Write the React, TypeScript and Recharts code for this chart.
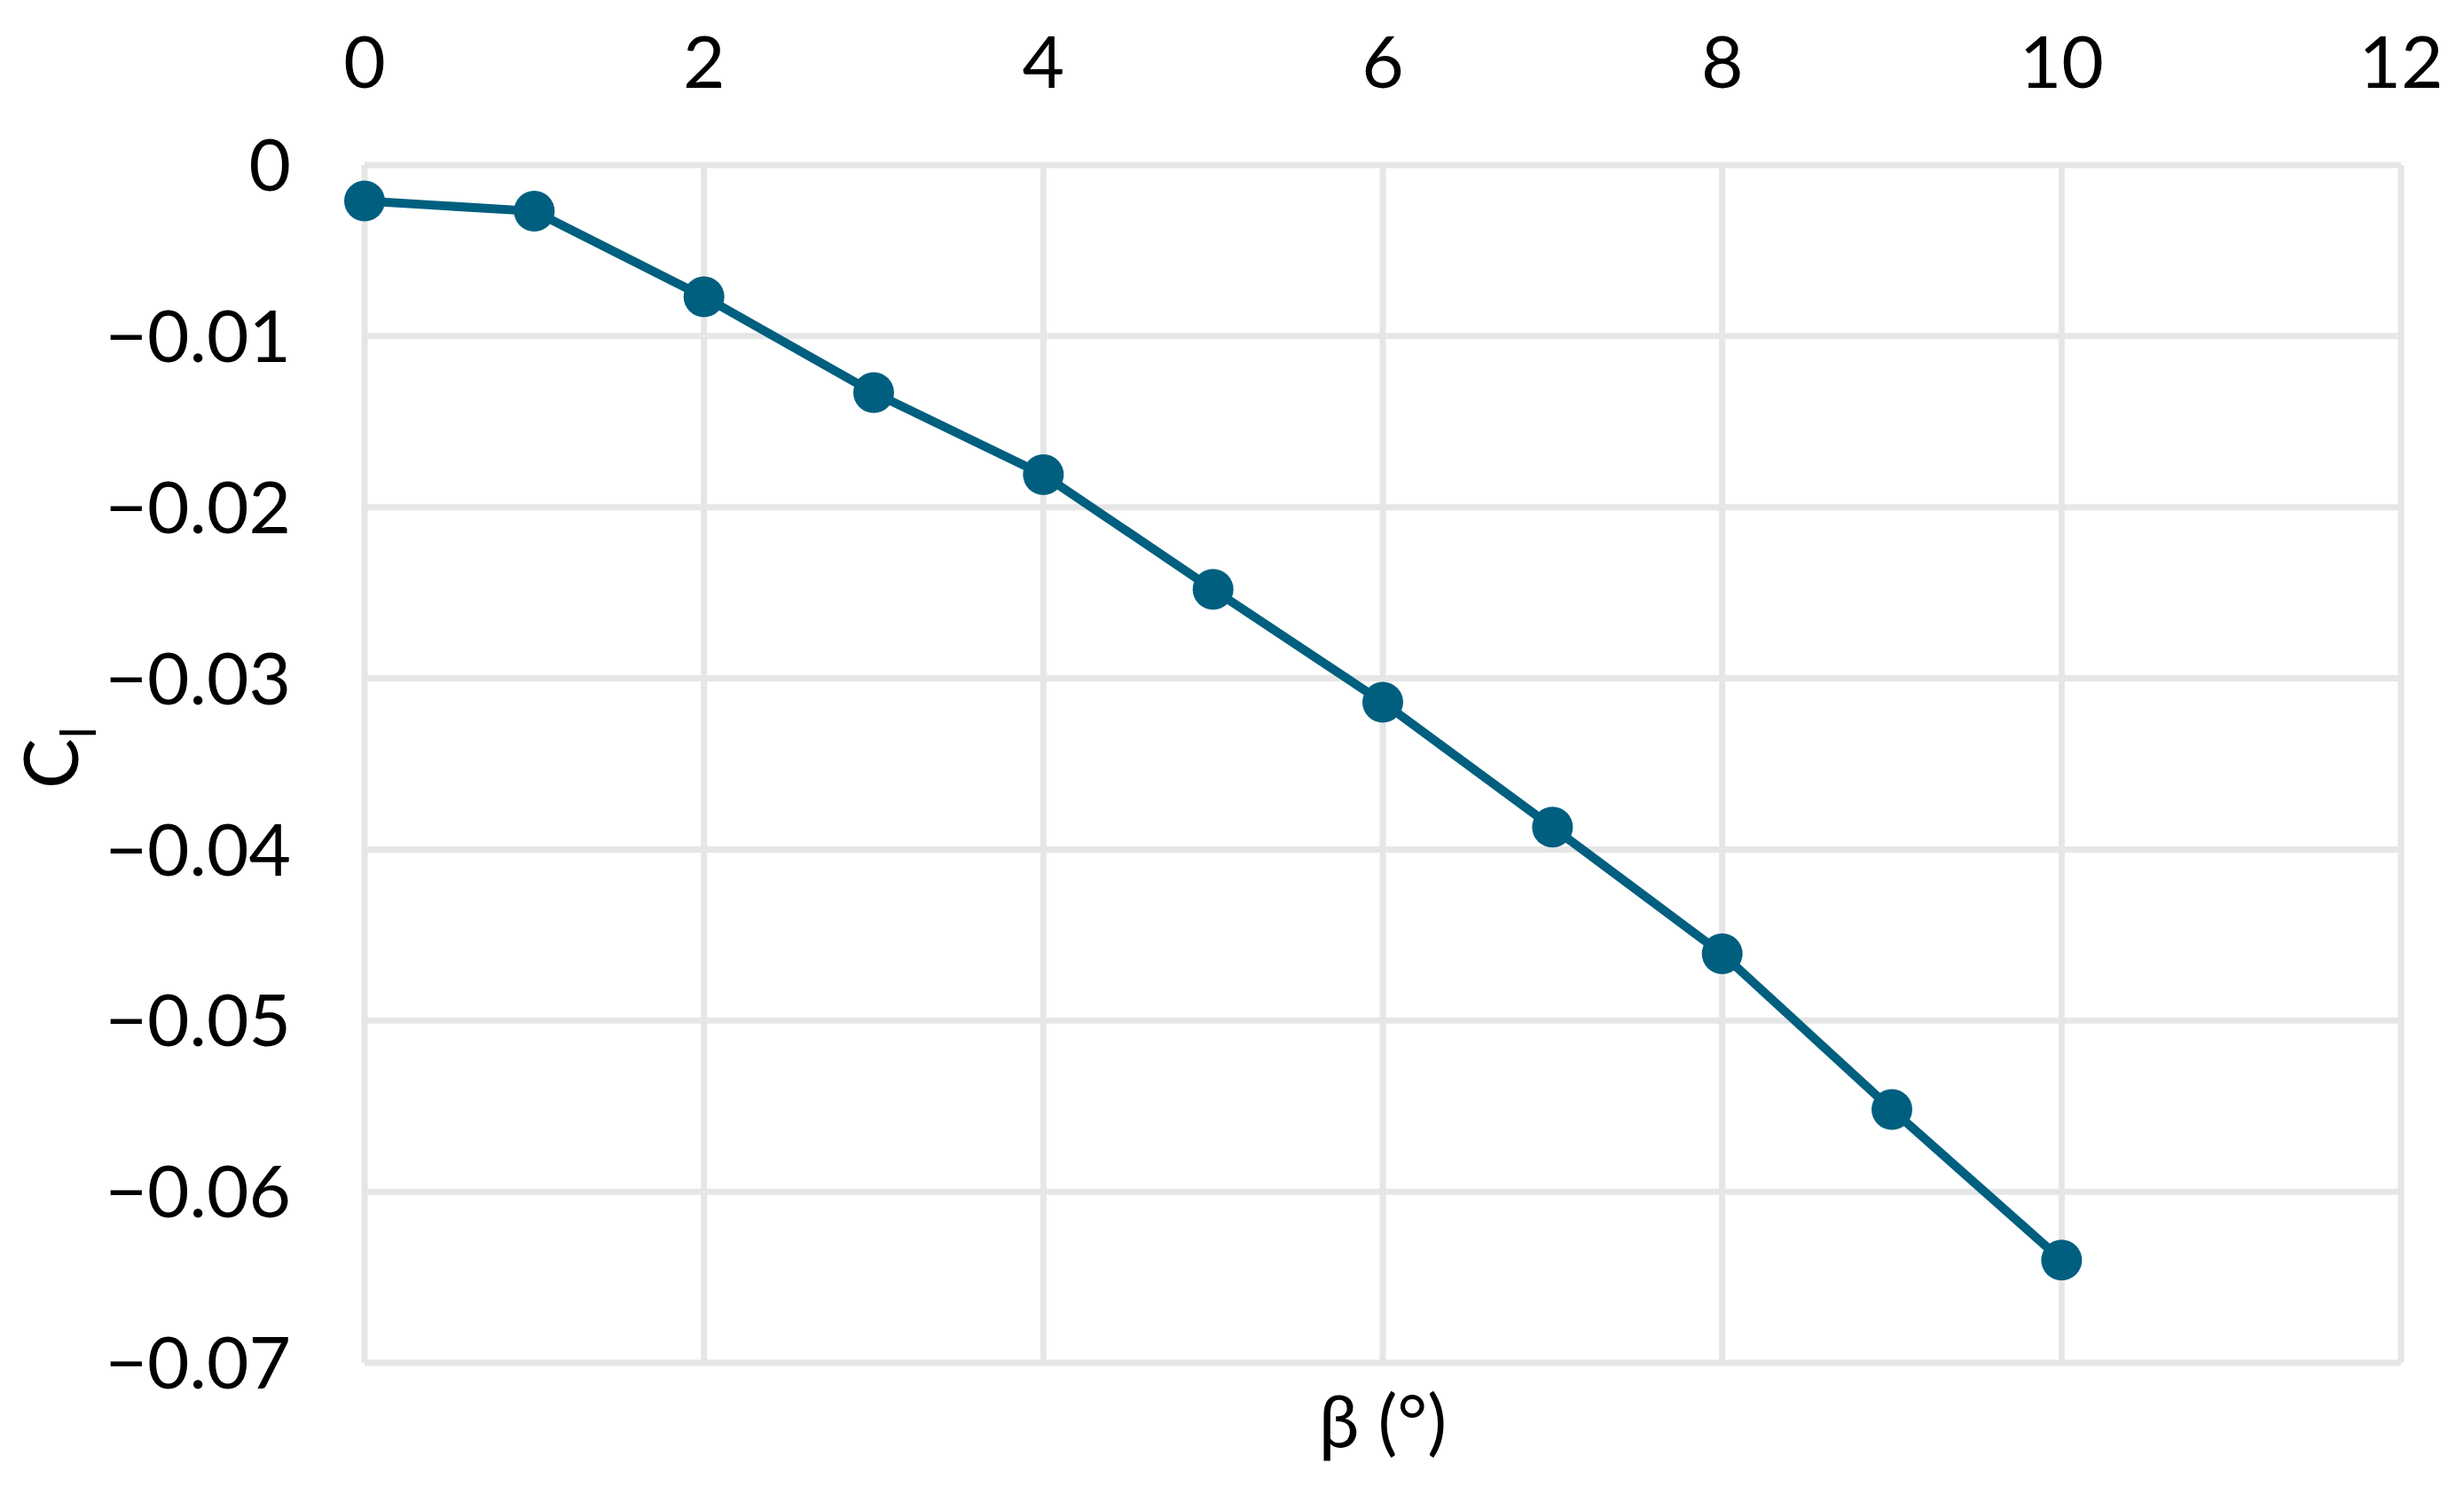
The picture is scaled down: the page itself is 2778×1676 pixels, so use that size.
import { LineChart, Line, XAxis, YAxis, CartesianGrid } from 'recharts';

// sideslip angle β (°) vs rolling moment coefficient Cl
const betaDeg = [0, 1, 2, 3, 4, 5, 6, 7, 8, 9, 10];
const rollCoeff = [-0.0021, -0.0027, -0.0077, -0.0133, -0.0181, -0.0248, -0.0314, -0.0387, -0.0461, -0.0552, -0.064];
const xTicks = [0, 2, 4, 6, 8, 10, 12];
const yTicks = [-0.07, -0.06, -0.05, -0.04, -0.03, -0.02, -0.01, 0];

const data = betaDeg.map((b, i) => ({ beta: b, cl: rollCoeff[i] }));

const font = 'Lato, "Open Sans", sans-serif';
const lineColor = '#005f7f';
const tickStyle = { fill: '#000', fontSize: 82, fontFamily: font };

const fmtY = (v: number) => (v === 0 ? '0' : '\u2212' + Math.abs(v).toFixed(2));

function ClLabel(props: any) {
  const vb = props.viewBox || {};
  const x = (vb.x ?? 410) + (vb.width ?? 1) - 323;
  const y = (vb.y ?? 186) + (vb.height ?? 1350) / 2 + 28;
  return (
    <text
      x={x}
      y={y}
      transform={`rotate(-90 ${x} ${y})`}
      fontFamily={font}
      fontSize={85}
      fill="#000"
    >
      C<tspan fontSize={56} dy={20}>l</tspan>
    </text>
  );
}

export default function App() {
  return (
    <div style={{ position: 'absolute', left: 0, top: 0, background: '#fff' }}>
      <LineChart
        width={2778}
        height={1676}
        data={data}
        margin={{ top: 185, right: 71, bottom: 139, left: 410 }}
      >
        <CartesianGrid stroke="#e6e6e6" strokeWidth={7} />
        <XAxis
          dataKey="beta"
          type="number"
          orientation="top"
          domain={[0, 12]}
          ticks={xTicks}
          height={1}
          axisLine={false}
          tickLine={false}
          tickSize={0}
          tickMargin={87}
          tick={tickStyle}
          interval={0}
        />
        <XAxis
          xAxisId="bottom"
          dataKey="beta"
          type="number"
          orientation="bottom"
          domain={[0, 12]}
          height={1}
          axisLine={false}
          tickLine={false}
          tick={false}
          label={{ value: 'β (°)', position: 'bottom', offset: 36, fill: '#000', fontSize: 82, fontFamily: font }}
        />
        <YAxis
          type="number"
          domain={[-0.07, 0]}
          ticks={yTicks}
          width={1}
          axisLine={false}
          tickLine={false}
          tickSize={0}
          tickMargin={83}
          tick={tickStyle}
          tickFormatter={fmtY}
          interval={0}
          label={<ClLabel />}
        />
        <Line
          type="linear"
          dataKey="cl"
          stroke={lineColor}
          strokeWidth={10}
          dot={{ r: 23, fill: lineColor, stroke: lineColor, strokeWidth: 0 }}
          isAnimationActive={false}
        />
      </LineChart>
    </div>
  );
}
